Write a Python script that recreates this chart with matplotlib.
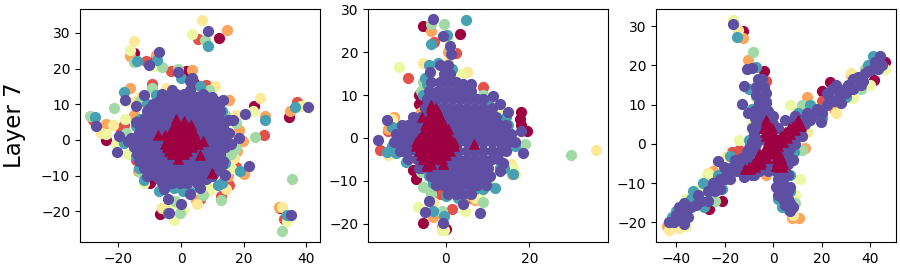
import numpy as np
import matplotlib
matplotlib.use("Agg")
import matplotlib.pyplot as plt

# ---------- Panel 1: (x, y), one list per class ----------
P1_C0 = [(12.2,28.6),(-14.9,24.4),(-24.1,0.1),(23.4,9.4),(34.6,6.4),(-6.6,-20.7),(31.6,-19.1),(1.6,19.3),(-8.2,22.5),(-10,-12),(14,-11),(4,16)]
P1_C1 = [(5.3,28.3),(-11.2,22.2),(26.4,1.3),(37.2,10.6),(33,-22.1),(12.8,-15.8),(-9.4,15.7),(-18.1,4.3),(-28,5.5),(8,15.5),(16.5,-6.4),(15.4,-12.5),(6.1,-16.5),(-19.1,2.4),(-14.6,-2.7),(-14.4,-5.5),(-3.2,19.3),(17.5,-7.5)]
P1_C2 = [(14.6,30.7),(-16.3,23.6),(-8,23.9),(3.4,19.5),(-16.3,14.6),(-23.9,4.6),(26.8,6.6),(34.8,8),(19.7,-0.4),(20.2,-9.5),(31.4,-18.8),(-13.8,-8.6),(-6.2,-19),(4.8,-16.7),(15.2,11.3),(18.6,2.9),(-15,7),(18,-3),(15,-10)]
P1_C3 = [(6.6,33.7),(-15.2,27.7),(25.2,11.8),(-21.6,4.3),(-25.5,2),(11,15),(32.4,-18.8),(-6.1,-19),(5,-17.9),(14.4,-13.7),(-4.8,14.6),(38.3,9.4),(17.6,7.1),(-13,12),(9,-14),(-15,10.5),(17,-5)]
P1_C4 = [(3.4,29.7),(-16.2,25.1),(-8.5,20.7),(-18,5.9),(-23.9,1.7),(22.9,8),(34,-22.8),(-2.4,-22.3),(0.5,-19.7),(-20.7,-1.1),(-17.6,10.8),(40.4,9.6),(8,13),(-12,-12),(-17,-4),(-3,-18),(16,-8),(9,-13.5)]
P1_C5 = [(7.8,27.9),(-14.9,21.9),(-6.2,20.5),(-0.9,20),(-21.5,9),(-29,6.6),(23.6,0.7),(35.4,-10.9),(32.4,-25.6),(12.8,-16.7),(-0.5,-20.5),(6.9,-15.3),(-9.3,14.6),(17.6,4.8),(17.6,-2.2),(-17.6,2),(9,14),(-13,-9),(-2,-17),(16,-4),(14,7),(-13,11)]
P1_C6 = [(8.6,26.3),(-14,22.2),(-7.7,22.5),(-18.1,13.5),(-27.4,6.4),(-8,12.7),(0,17.4),(5.9,15.2),(26.8,5.5),(36.5,9.2),(34,-20.9),(18.8,-8.8),(11.7,-12.5),(-7.1,-14.2),(-12,-11.1),(-14.4,-4.6),(-18.1,-0.8),(12.2,9.4),(12.2,-4.1),(13,-12),(-2.1,-13.5),(0.5,-14.4),(-14.4,3.8),(-4.3,-20.5),(-15,-1),(-13.5,-8),(14,-6.5),(3,-14.5),(13,8),(-11,10),(-13,6)]
P1_PURPLE_OUT = [(8.7,30.6),(-7.1,24.6),(-10.4,21.1),(-0.9,19),(3.4,17.4),(2.7,16.4),(-17.8,11.3),(-12,12.7),(-14.4,9.4),(-27.1,3.8),(-19.9,1.2),(-20.4,-3.4),(-16,0.5),(-17,-0.4),(20.5,7.4),(40.7,9.3),(35.1,-20.9),(21.8,-7.4),(-4.3,-16.5),(-3.9,-20.5),(-0.1,-17.9),(-5.6,-13.7),(2.7,-15.1),(6.1,-13.5),(13.5,11.1),(18.4,0.6),(15.4,2),(14.9,5.7),(13.9,-9.7),(16.5,5.7),(16,-1),(-15,-2),(-14.5,5)]
P1_PURPLE_ROWS = {
    14: [-3, 3],
    13: [-6,-1.5,1,7],
    12: [-4,-1,2,5,8,10],
    11: [-7,-4,-1,2,5,8,11],
    10: [-9,-6,-3,0,3,6,9,12],
    9: [-10,-7,-4,-1,2,5,8,11],
    8: [-11,-8,-5,-2,1,4,7,10,12.5],
    7: [-10,-7,-4,-1,2,5,8,11],
    6: [-12,-9,-6,-3,0,3,6,9,12],
    5: [-11,-8,-5,-2,1,4,7,10,13],
    4: [-13,-10,-7,-4,-1,2,5,8,11,13.5],
    3: [-12,-9,-6,-3,0,3,6,9,12],
    2: [-13.5,-11,-8,-5,-2,1,4,7,10,13],
    1: [-12,-9,-6,-3,0,3,6,9,12],
    0: [-14,-11,-8,-5,-2,1,4,7,10,13,14.5],
    -1: [-12,-9,-6,-3,0,3,6,9,12],
    -2: [-13,-10,-7,-4,-1,2,5,8,11,14],
    -3: [-12,-9,-6,-3,0,3,6,9,12],
    -4: [-14,-11,-8,-5,-2,1,4,7,10,12.5],
    -5: [-12,-9,-6,-3,0,3,6,9,12],
    -6: [-13.5,-10,-7,-4,-1,2,5,8,11,13.5],
    -7: [-11,-8,-5,-2,1,4,7,10,13],
    -8: [-12,-9,-6,-3,0,3,6,9,12],
    -9: [-10,-7,-4,-1,2,5,8,11],
    -10: [-11,-8,-5,-2,1,4,7,10],
    -11: [-7,-4,-1,2,5,8],
    -12: [-6,-3,-0.5,2,5],
}
P1_TRI_OUT = [(-7.4,1.5),(-5.1,1.5),(-1,-5.3),(6.2,-4.1),(9.9,-9.3),(6.9,-0.4),(-1.6,5.9),(0.9,5.2),(3.2,4.3)]
P1_TRI_ROWS = {
    4: [-2,-0.5,1,3],
    3: [-3,-1,1,3],
    2: [-3.5,-1.5,0.5,2.5,4],
    1: [-4,-2,0,2,4],
    0: [-4.5,-2.5,-0.5,1.5,3.5,5],
    -1: [-5,-3,-1,1,3,5.5],
    -2: [-4.5,-2.5,-0.5,1.5,3.5],
    -3: [-4,-2,0,2],
    -4: [-3,-1,1],
}

# ---------- Panel 2 ----------
P2_C0 = [(-5.4,26.2),(3.3,24.2),(18,6),(17.8,4.5),(19.5,1.7),(-7.2,-9.5),(-5.5,-19.8),(0,-21.3),(-6.5,10),(-8,-7.5),(-6.5,8),(18,3)]
P2_C1 = [(-9,14),(-2.8,22.5),(-15.8,-2.8),(8.8,11.9),(1.5,-16.5),(2.5,19.9),(-14,1.5),(-12,-3),(-1.5,-13),(6,-14)]
P2_C2 = [(-3.5,25),(-12.5,4.8),(-14,2),(-3,-18.5),(-1,-20.5),(0.5,20),(4,12),(-6,6),(5,-13.5),(7,-14.5),(15.8,-8.5),(-13.5,-3.5)]
P2_C3 = [(-5.5,17.5),(36,-2.8),(-1,-21.5),(5,15.5),(0.5,18),(-13,4.5),(7,-14),(15.5,-6),(-14,-4),(-3,-15),(16.5,-8.5),(17,-1.5)]
P2_C4 = [(-11.3,16.6),(-6.8,-16.2),(4.5,-17),(3.5,15),(0.5,23),(-12.5,-3.5),(-0.5,-21.5),(-13,3.5),(8,-13),(13,7),(16,-7)]
P2_C5 = [(-3.5,26.5),(-0.5,26.7),(30,-4),(9,-15),(-1,-17),(-5.5,-11.5),(-3.5,-13),(-5.5,13),(9,10),(1,21),(19,-1.5),(-4,-12),(10,-11),(-6,-8),(-6,11)]
P2_C6 = [(4.7,27.5),(-3.6,21.9),(0.3,24),(-3,-17),(-0.5,-18.2),(16,-8.5),(11.7,-11.6),(-14.2,-3.2),(-9.5,-5.6),(-4.5,12.5),(-4,17),(-2,17.5),(14,-7),(-13,-2),(-3,-10.5),(15,3),(0,-13.5),(-13,2.5),(14.5,5),(16.5,-2),(-5.5,10),(-5,14),(1.5,16),(-12,-3.5),(13,-7),(9,-12),(7,-12),(-4,-9),(3,-14),(5,11),(10,8),(-11,2.5)]
P2_PURPLE_OUT = [(-3,27.7),(-0.7,23.9),(0.9,21.4),(1.3,19.6),(-3.8,15.4),(-16.2,-0.4),(-14.2,4.1),(18.5,-3.5),(17.9,1.6),(12.9,-7.8),(13.7,-5.8),(8.2,-17.5),(4.2,-15.4),(-4.1,-14.7),(-5.1,-17.3),(-0.7,-19.9),(11.3,9.9),(14.9,6),(12.9,8),(6,12.5),(4,12.7),(-9.5,2.5),(-6.5,4.5),(-10.5,3),(-10,-3),(-6.5,-7)]
P2_PURPLE_ROWS = {
    17: [-1.5,0.5],
    15: [-0.5,1],
    13: [-3.5,-1.5,0.5,2.5],
    11: [-4,-2,0,2,4,6],
    9: [-4.5,-2.5,-0.5,1.5,3.5,5.5,7.5,9],
    7: [-5,-3,-1,1,3,5,7,9,11],
    5: [-8,-6,-4,-2,0,2,4,6,8,10,12],
    3: [-9,-7,-5,-3,-1,1,3,5,7,9,11,13,14.5],
    1: [-12,-10,-8,-6,-4,-2,0,2,4,6,8,10,12,14,15.5],
    -1: [-12.5,-11,-9,-7,-5,-3,-1,1,3,5,7,9,11,13,15,16.5],
    -3: [-11,-9,-7,-5,-3,-1,1,3,5,7,9,11,13,14.5],
    -5: [-9,-7,-5,-3,-1,1,3,5,7,9,11,12.5],
    -7: [-6,-4,-2,0,2,4,6,8,10],
    -9: [-3.5,-1.5,0.5,2.5,4.5,6.5,8.5,10.5],
    -11: [-2.5,-0.5,1.5,3.5,5.5,7.5,9.5],
    -13: [0.5,2.5,4,6],
}
P2_TRI_OUT = [(-3.5,7.8),(-2.3,6.8),(-5.7,4.8),(6.8,-1.5),(-4.5,-6.5),(-0.8,-6)]
P2_TRI_ROWS = {
    7: [-3.5,-2.5],
    6: [-3.7,-2],
    5: [-4,-2.5,-1.5],
    4: [-4,-2.5,-1],
    3: [-5,-3.5,-2,-0.5],
    2: [-5,-3.5,-2,-0.5,0.5],
    1: [-5.5,-4,-2.5,-1,0.5],
    0: [-6.5,-5,-3.5,-2,-0.5,1],
    -1: [-7.3,-5.5,-4,-2.5,-1,0.5,2],
    -2: [-7.3,-5.5,-4,-2.5,-1,0.5,2],
    -3: [-6.5,-5,-3.5,-2,-0.5,1],
    -4: [-6,-4.5,-3,-1.5,0],
    -5: [-5.5,-4,-2.5,-1],
    -6: [-4.5,-3.5],
}

# ---------- Panel 3 ----------
P3_C0 = [(-12.5,28.8),(46,21),(41.5,16.3),(23.5,15.8),(20,13.5),(-38.5,-18),(-26.5,-16.5),(-21,-14.5),(8,-14),(-4,18.5),(-15,-3),(-26,-8)]
P3_C1 = [(-40,-19),(-24,-8.5),(-14,-1.5),(-5,11),(20,11),(7.5,-15),(30,14),(-17,-2),(-3,16),(12,2)]
P3_C2 = [(-12.5,27),(-10.5,21.5),(14,12),(32,17.5),(-44,-21),(7.5,-19),(10.5,-19),(-3,-8),(-25,-7),(25,9),(13,-1)]
P3_C3 = [(-14.5,29),(-43,-22),(-39,-21.5),(32,18),(26,8),(-27,-7.5),(8,-18),(14,3),(0.5,-7),(-19,-3)]
P3_C4 = [(-16.5,31.7),(33,11.8),(46,19),(10,8.5),(-30,-11),(-36,-14),(-14,1),(11,-9),(-9,5),(-36,-21),(9,-13),(40,15),(-27.5,-8),(16,10),(7,10)]
P3_C5 = [(-8.5,23.5),(12,-1.5),(8,-4),(-31,-14),(9,-15),(-24,-14.5),(36,14),(-7,12),(12,10),(38,19),(-14,-5)]
P3_C6 = [(-15,27.2),(-7,19.5),(-10,14),(-29,-10),(-33,-12),(6,-16.5),(3.5,-16),(-17,-7),(-14,-7),(-18,-3),(-25,-10),(-28.5,-16),(-43,-20),(15,10),(10,8),(-3,11),(8.5,-2),(5,-7),(39,20),(41,22.5),(30,12),(24,11),(-7,5),(-10,1),(-26,-12),(-23,-8),(-21,-11.5),(-8,3),(9,7),(20,6.5),(12,5),(-40,-17),(-42,-18.5),(-34,-14),(7,-8),(7,-12),(2,-14),(-9,9)]
P3_PURPLE = [(-16.5,30.7),(-11,19),(-9,19.3),(-12,14.8),(-12.8,10.2),(-10.5,8),(-6.5,16.5),(-4.5,16.5),(-7,14.5),(-4,14.5),(-7,12.5),(-4,12.5),(-6,10.5),(-3,10.5),(-8,8.5),(-5,8.5),(-2,8.5),(-7.5,6.5),(-5,6),(-7,4.5),(-8,2.5),(-9,0.5),(-10,-1),(-11,-2),(-13,-3.5),(-16,-4),(-23,-4.3),(-20.5,-6),(-19,-7.5),(-14,-5),(-10,-4),
             (-17,-6),(-22,-9),(-25,-10),(-27,-12),(-24,-12),(-27,-14.5),(-31,-13),(-32,-15.5),(-34,-16),(-37,-15),(-39,-16),(-36,-17.5),(-40,-18),(-38,-19.5),(-41,-20),(-37,-20.5),(-35,-18.5),(-43,-20),(-30,-14.5),(-22,-11.5),(-18,-9),
             (8,5),(6,3),(4,2),(11,6),(14,8),(9,7),(13,5),(16,7),(18,9),(20,8),(19.5,5.5),(22,10),(25,11),(22,13),(24,14),(27,12),(26,15),(28,10.5),(30,13),(33,14),(33,16.5),(35,17),(37,16),(36,15),(39,18.5),(41,19),(43,19),(44,22.5),(42,21),(45,20),(38,18),
             (8,2),(10,3),(9,0),(7,-1),(6,-3),(8,-4),(6,-5),(3,-8),(5,-7),(1,-7),(2,-9),(4,-10),(1,-11),(4,-12),(2,-13),(4,-14),(6,-12),(6,-14),(5,-15.5),(7,-15),(7,-17),(8,-16),(-2,-5),(-5,-5),(-7,-5),(-9,-8),(-12,-8.5),(-4,-3),(-7,-2),(-6,1),(-5,4),(-3,6),(0,5),(2,4),(5,6),(3,-4),(6,-2),
             (0,7),(-1,3),(-3,-6),(-6,-7),(-15,-7),(-13,-7),(-20,-9),(2,-3),(4,-2),(11,3),(15,6),(23,12),(27,14),(31,15),(-9,-5),(-11,-6),(-7,0),(-9,4),(-6,9),(-3,13),(2,-6),(6,-8),(7,-11),(12,2),(-1,6),(-10,-6),(-8,-8),(-2,-7)]
P3_TRI = [(-3.2,6.2),(-3,5),(-4,4),(-2,4),(-0.5,4),(-3.5,3),(-2,3),(0,2.5),(-3,2),(-1.5,2),(-2,1),(-1,1),(1,1.5),(-2,0),(-0.5,0),(2,1),(-3,-1),(-1,-1),(1,0.5),(0,-1),(3,2),(5,3),(4,0.5),(6.5,4),(8,4.5),(10.3,6),(9.5,5),(11.5,4.5),(9,3.5),(7,2.5),(5.5,1.5),(2,-0.5),
          (0.5,-2),(2,-2),(3,-3.5),(1,-3.5),(-1,-2.5),(-3,-2),(-5,-3),(-7,-4),(-8.5,-5),(-10,-5.8),(-11.5,-6.5),(-9.5,-6.5),(-7.5,-6),(-5,-4.5),(-3,-3.5),(-5.5,-5),(-4,-1.5),(-6,-2.5),(3.5,-6),(2,-5),(1.5,-4.5),(2.5,-6),(4,-5),(3.3,-4.8),(1,-5.5)]

PANELS = [
    ([P1_C0,P1_C1,P1_C2,P1_C3,P1_C4,P1_C5,P1_C6], P1_PURPLE_OUT, P1_PURPLE_ROWS, P1_TRI_OUT, P1_TRI_ROWS),
    ([P2_C0,P2_C1,P2_C2,P2_C3,P2_C4,P2_C5,P2_C6], P2_PURPLE_OUT, P2_PURPLE_ROWS, P2_TRI_OUT, P2_TRI_ROWS),
    ([P3_C0,P3_C1,P3_C2,P3_C3,P3_C4,P3_C5,P3_C6], P3_PURPLE, {}, P3_TRI, {}),
]
XLIMS = [(-32.3,44.4),(-18.7,38.9),(-48.4,50.6)]
YLIMS = [(-28.6,36.7),(-24.3,30.1),(-25.0,34.4)]
XTICKS = [[-20,0,20,40],[0,20],[-40,-20,0,20,40]]
YTICKS = [[-20,-10,0,10,20,30],[-20,-10,0,10,20,30],[-20,-10,0,10,20,30]]
LEFTS = [80,368,656]
ROW_LABEL = "Layer 7"

def merge(points, rows):
    out = list(points)
    for y, xs in rows.items():
        out += [(x, y) for x in xs]
    return np.array(out)

W, H = 900, 270
fig = plt.figure(figsize=(W/100, H/100), dpi=100)
cmap = plt.cm.Spectral
for i, (classes, p_out, p_rows, t_out, t_rows) in enumerate(PANELS):
    ax = fig.add_axes([LEFTS[i]/W, 1-242/H, 240/W, 233/H])
    for k, pts in enumerate(classes):
        a = np.array(pts)
        ax.scatter(a[:,0], a[:,1], color=cmap(k/7), s=50)
    a = merge(p_out, p_rows)
    ax.scatter(a[:,0], a[:,1], color=cmap(1.0), s=50)
    a = merge(t_out, t_rows)
    ax.scatter(a[:,0], a[:,1], color=cmap(0.0), s=44, marker="^")
    ax.set_xlim(*XLIMS[i]); ax.set_ylim(*YLIMS[i])
    ax.set_xticks(XTICKS[i]); ax.set_yticks(YTICKS[i])
    if i == 0:
        ax.set_ylabel(ROW_LABEL, fontsize=16.5, labelpad=11)
fig.savefig("out.png", dpi=100)
